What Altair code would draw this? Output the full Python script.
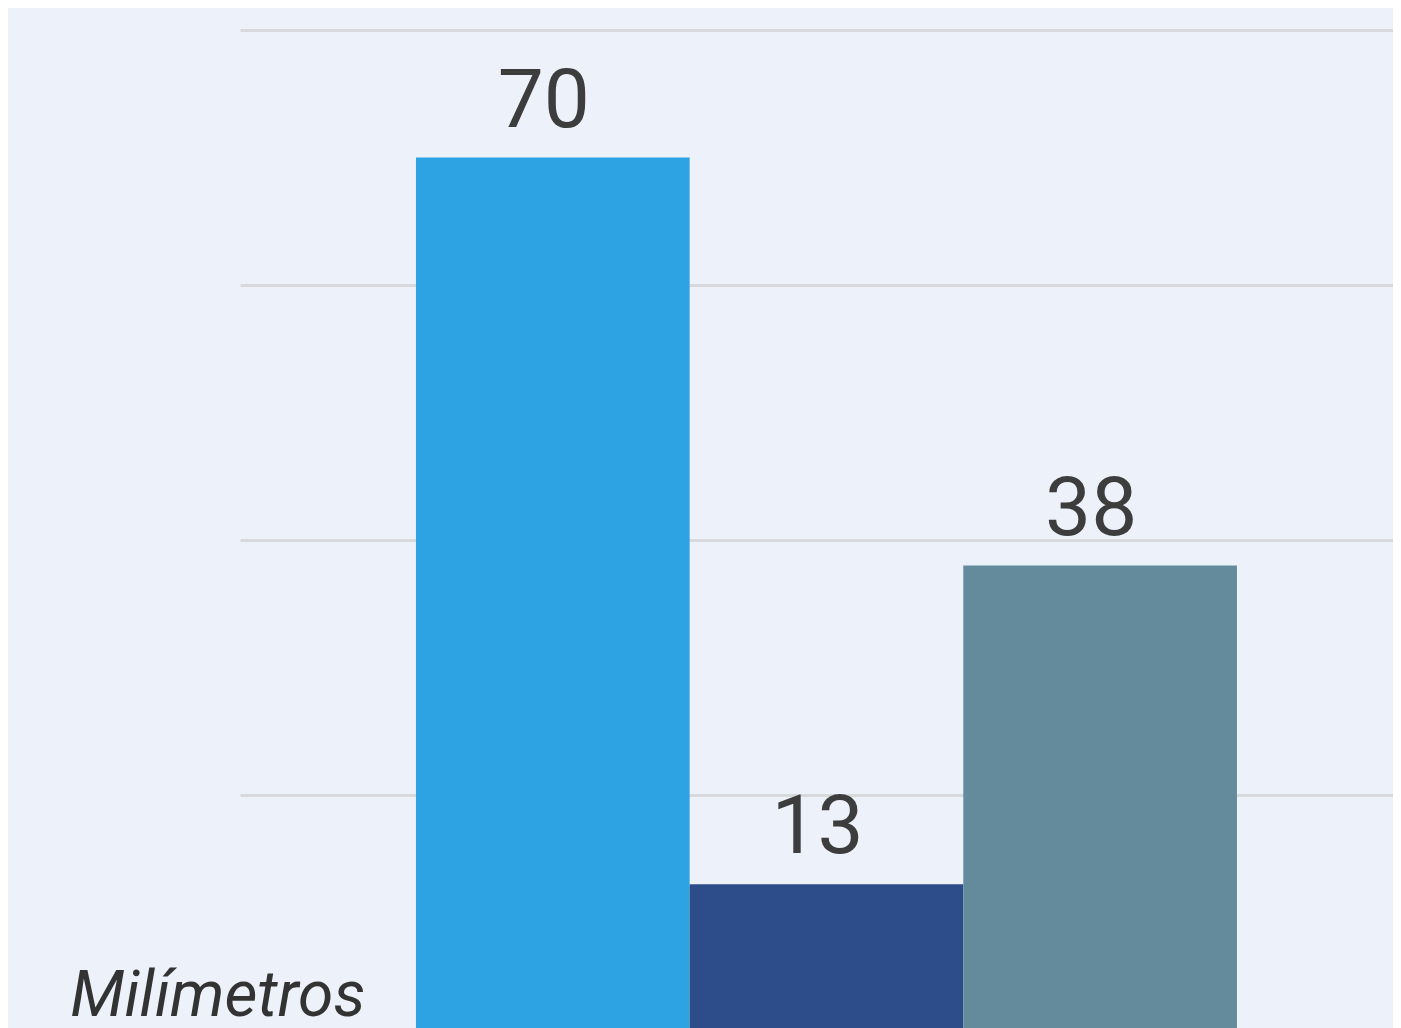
import altair as alt
import pandas as pd

categories = ["A", "B", "C"]
values = [70, 13, 38]
colors = ["#2ea3e3", "#2d4d8a", "#648b9c"]
grid_values = [20, 40, 60, 80]
y_title = "Milímetros"

df = pd.DataFrame({"cat": categories, "val": values})

x = alt.X("cat:N", axis=None, sort=categories,
          scale=alt.Scale(paddingInner=0, paddingOuter=0.6066, align=0.53))
y_scale = alt.Scale(domain=[1.73, 80], zero=False, nice=False)

bars = alt.Chart(df).mark_bar(clip=True).encode(
    x=x,
    y=alt.Y("val:Q", scale=y_scale,
            axis=alt.Axis(values=grid_values, grid=True, labels=False, ticks=False,
                          domain=False, gridColor="#d8d9dd", gridWidth=3,
                          title=y_title, titleAngle=0, titleX=125, titleY=985,
                          titleAlign="right", titleBaseline="alphabetic",
                          titleFont="Roboto", titleFontStyle="italic",
                          titleFontWeight="normal", titleFontSize=64,
                          titleColor="#333333")),
    color=alt.Color("cat:N", scale=alt.Scale(domain=categories, range=colors), legend=None),
)

labels = alt.Chart(df).mark_text(
    baseline="alphabetic", align="center", dy=-31, dx=-9,
    font="Roboto", fontSize=82, color="#3d3d3d"
).encode(
    x=x,
    y=alt.Y("val:Q", scale=y_scale),
    text=alt.Text("val:Q"),
)

chart = alt.layer(bars, labels).properties(
    width=1153, height=998,
    padding={"left": 232, "top": 22, "right": 0, "bottom": 0},
    autosize=alt.AutoSizeParams(type="none"),
    background="#edf1fa",
).configure_view(stroke=None)

chart.save("out.html", embed_options={"renderer": "svg", "actions": False})
